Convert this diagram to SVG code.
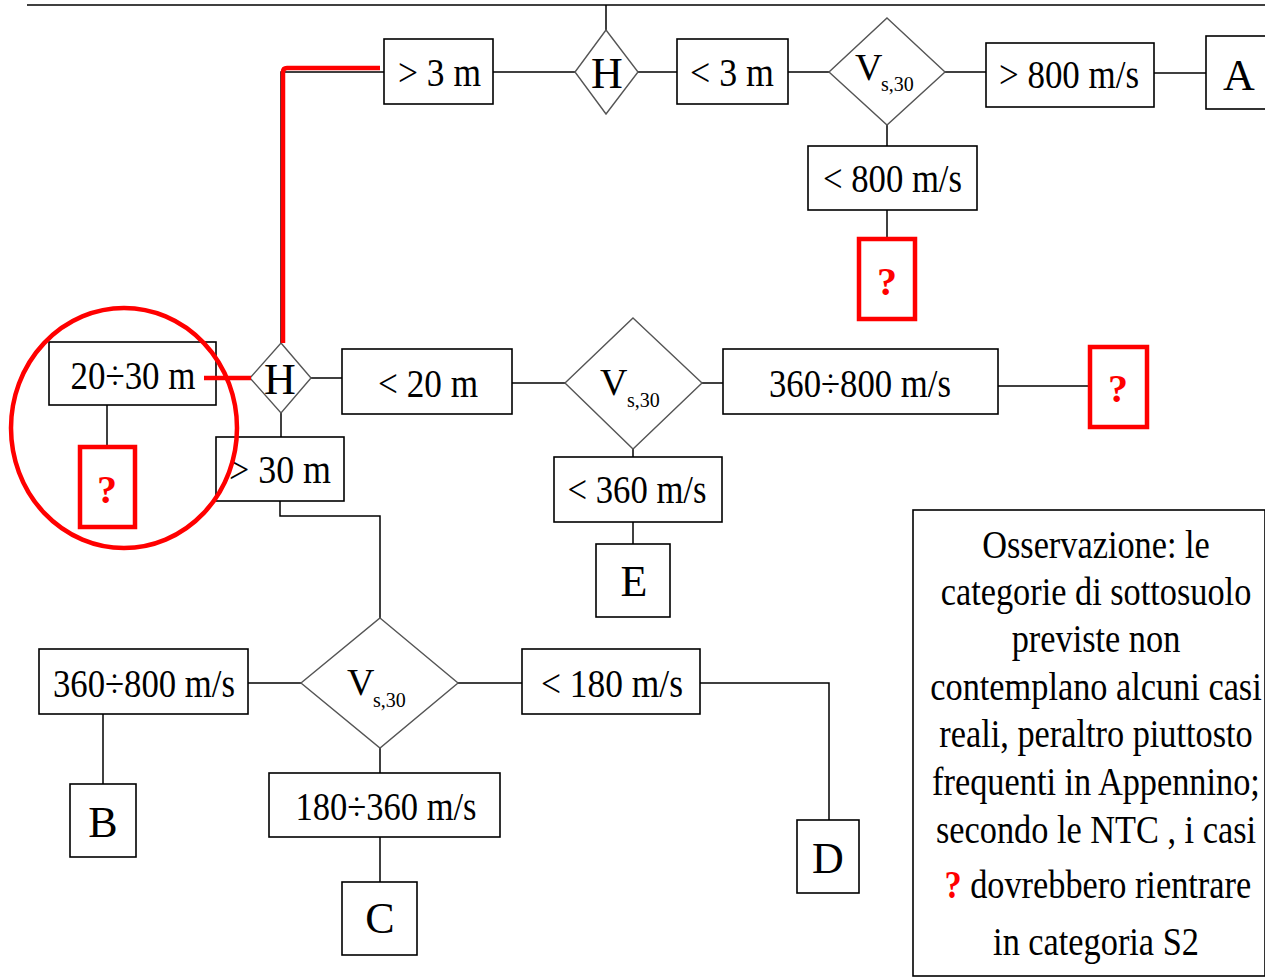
<svg xmlns="http://www.w3.org/2000/svg" width="1265" height="977" viewBox="0 0 1265 977">
  <style>
    .box { fill: #fff; stroke: #000; stroke-width: 1.6; }
    .dia { fill: #fff; stroke: #555; stroke-width: 1.4; }
    .qbox { fill: #fff; stroke: #f00; stroke-width: 4.5; }
    .lbl { font-family: "Liberation Serif", "Times New Roman", serif; font-size: 40px; text-anchor: middle; fill: #000; }
    .let { font-family: "Liberation Serif", "Times New Roman", serif; font-size: 44px; text-anchor: middle; fill: #000; }
    .v { font-family: "Liberation Serif", "Times New Roman", serif; font-size: 38px; fill: #000; }
    .sub { font-size: 20px; }
    .q { font-family: "Liberation Serif", "Times New Roman", serif; font-size: 40px; font-weight: bold; text-anchor: middle; fill: #f00; }
    .note { font-family: "Liberation Serif", "Times New Roman", serif; font-size: 39px; text-anchor: middle; fill: #000; }
    .conn path { fill: none; stroke: #000; stroke-width: 1.5; }
    .hl { fill: none; stroke: #f00; stroke-width: 4.5; }
  </style>

  <rect width="1265" height="977" fill="#fff"/>

  <!-- connectors -->
  <g class="conn" id="connectors">
    <path d="M27 5 H1265"/>
    <path d="M606 5 V30"/>
    <path d="M493 72 H575"/>
    <path d="M638 72 H677"/>
    <path d="M788 72 H829"/>
    <path d="M945 72 H986"/>
    <path d="M1154 73 H1206"/>
    <path d="M887 125 V146"/>
    <path d="M887 210 V239"/>
    <path d="M281 343 V72 H384"/>
    <path d="M216 378 H250"/>
    <path d="M311 378 H342"/>
    <path d="M512 383 H565"/>
    <path d="M702 383 H723"/>
    <path d="M998 386 H1090"/>
    <path d="M633 449 V457"/>
    <path d="M633 522 V544"/>
    <path d="M281 413 V437"/>
    <path d="M107 405 V447"/>
    <path d="M280 501 V516 H380 V618"/>
    <path d="M248 683 H301"/>
    <path d="M458 683 H522"/>
    <path d="M103 714 V784"/>
    <path d="M380 748 V773"/>
    <path d="M380 837 V882"/>
    <path d="M700 683 H829 V820"/>
  </g>

  <!-- top branch -->
  <g id="h-top">
    <polygon class="dia" points="606,30 638,72 606,114 575,72"/>
    <text class="let" x="607" y="88">H</text>
  </g>
  <g id="gt3">
    <rect class="box" x="384" y="39" width="109" height="65"/>
    <text class="lbl" x="439.5" y="86" textLength="83" lengthAdjust="spacingAndGlyphs">&gt; 3 m</text>
  </g>
  <g id="lt3">
    <rect class="box" x="677" y="39" width="111" height="65"/>
    <text class="lbl" x="732" y="86" textLength="84" lengthAdjust="spacingAndGlyphs">&lt; 3 m</text>
  </g>
  <g id="vs-top">
    <polygon class="dia" points="887,18 945,72 887,125 829,72"/>
    <text class="v"><tspan x="855" y="80">V</tspan><tspan class="sub" x="881" y="91">s,30</tspan></text>
  </g>
  <g id="gt800">
    <rect class="box" x="986" y="43" width="168" height="64"/>
    <text class="lbl" x="1069" y="88" textLength="140" lengthAdjust="spacingAndGlyphs">&gt; 800 m/s</text>
  </g>
  <g id="cat-a">
    <rect class="box" x="1206" y="36" width="64" height="73"/>
    <text class="let" x="1239" y="90">A</text>
  </g>
  <g id="lt800">
    <rect class="box" x="808" y="146" width="169" height="64"/>
    <text class="lbl" x="892.5" y="192" textLength="139" lengthAdjust="spacingAndGlyphs">&lt; 800 m/s</text>
  </g>
  <g id="q-top">
    <rect class="qbox" x="859" y="239" width="56" height="80"/>
    <text class="q" x="887" y="295">?</text>
  </g>

  <!-- middle branch -->
  <g id="h-mid">
    <polygon class="dia" points="281,343 311,378 281,413 250,378"/>
    <text class="let" x="280" y="394">H</text>
  </g>
  <g id="r20-30">
    <rect class="box" x="49" y="342" width="167" height="63"/>
    <text class="lbl" x="133" y="389" textLength="125" lengthAdjust="spacingAndGlyphs">20÷30 m</text>
  </g>
  <g id="q-left">
    <rect class="qbox" x="80" y="447" width="55" height="80"/>
    <text class="q" x="107" y="503">?</text>
  </g>
  <g id="lt20">
    <rect class="box" x="342" y="349" width="170" height="65"/>
    <text class="lbl" x="428" y="397" textLength="100" lengthAdjust="spacingAndGlyphs">&lt; 20 m</text>
  </g>
  <g id="gt30">
    <rect class="box" x="216" y="437" width="128" height="64"/>
    <text class="lbl" x="280" y="483" textLength="102" lengthAdjust="spacingAndGlyphs">&gt; 30 m</text>
  </g>
  <g id="vs-mid">
    <polygon class="dia" points="633,318 702,383 633,449 565,383"/>
    <text class="v"><tspan x="600" y="395">V</tspan><tspan class="sub" x="627" y="407">s,30</tspan></text>
  </g>
  <g id="r360-800-mid">
    <rect class="box" x="723" y="349" width="275" height="65"/>
    <text class="lbl" x="860" y="397" textLength="182" lengthAdjust="spacingAndGlyphs">360÷800 m/s</text>
  </g>
  <g id="q-right">
    <rect class="qbox" x="1090" y="347" width="57" height="80"/>
    <text class="q" x="1118" y="402">?</text>
  </g>
  <g id="lt360">
    <rect class="box" x="554" y="457" width="168" height="65"/>
    <text class="lbl" x="637" y="503" textLength="139" lengthAdjust="spacingAndGlyphs">&lt; 360 m/s</text>
  </g>
  <g id="cat-e">
    <rect class="box" x="596" y="544" width="74" height="73"/>
    <text class="let" x="634" y="596">E</text>
  </g>

  <!-- lower branch -->
  <g id="vs-low">
    <polygon class="dia" points="380,618 458,683 380,748 301,683"/>
    <text class="v"><tspan x="347" y="695">V</tspan><tspan class="sub" x="373" y="707">s,30</tspan></text>
  </g>
  <g id="r360-800-low">
    <rect class="box" x="39" y="649" width="209" height="65"/>
    <text class="lbl" x="144" y="697" textLength="182" lengthAdjust="spacingAndGlyphs">360÷800 m/s</text>
  </g>
  <g id="lt180">
    <rect class="box" x="522" y="649" width="178" height="65"/>
    <text class="lbl" x="612" y="697" textLength="142" lengthAdjust="spacingAndGlyphs">&lt; 180 m/s</text>
  </g>
  <g id="cat-b">
    <rect class="box" x="70" y="784" width="66" height="73"/>
    <text class="let" x="103" y="837">B</text>
  </g>
  <g id="r180-360">
    <rect class="box" x="269" y="773" width="231" height="64"/>
    <text class="lbl" x="386" y="820" textLength="181" lengthAdjust="spacingAndGlyphs">180÷360 m/s</text>
  </g>
  <g id="cat-c">
    <rect class="box" x="342" y="882" width="75" height="73"/>
    <text class="let" x="380" y="933">C</text>
  </g>
  <g id="cat-d">
    <rect class="box" x="797" y="820" width="62" height="73"/>
    <text class="let" x="828" y="873">D</text>
  </g>

  <!-- note: narrow serif lines, centred in the box -->
  <g id="note">
    <rect class="box" x="913" y="510" width="352" height="466" stroke-width="2"/>
    <g transform="translate(1096 0) scale(0.88 1)">
      <text class="note" x="0" y="558">Osservazione: le</text>
      <text class="note" x="0" y="605">categorie di sottosuolo</text>
      <text class="note" x="0" y="652">previste non</text>
      <text class="note" x="0" y="700">contemplano alcuni casi</text>
      <text class="note" x="0" y="747">reali, peraltro piuttosto</text>
      <text class="note" x="0" y="795">frequenti in Appennino;</text>
      <text class="note" x="0" y="843">secondo le NTC , i casi</text>
      <text class="note" x="2" y="898"><tspan fill="#f00" font-weight="bold">?</tspan> dovrebbero rientrare</text>
      <text class="note" x="0" y="955">in categoria S2</text>
    </g>
  </g>

  <!-- red highlight of the uncovered branch -->
  <g id="highlight">
    <path class="hl" d="M283 343 V72 Q283 68 287 68 H380"/>
    <path class="hl" d="M204 378 H251"/>
    <ellipse class="hl" cx="124" cy="428" rx="113" ry="120"/>
  </g>
</svg>
